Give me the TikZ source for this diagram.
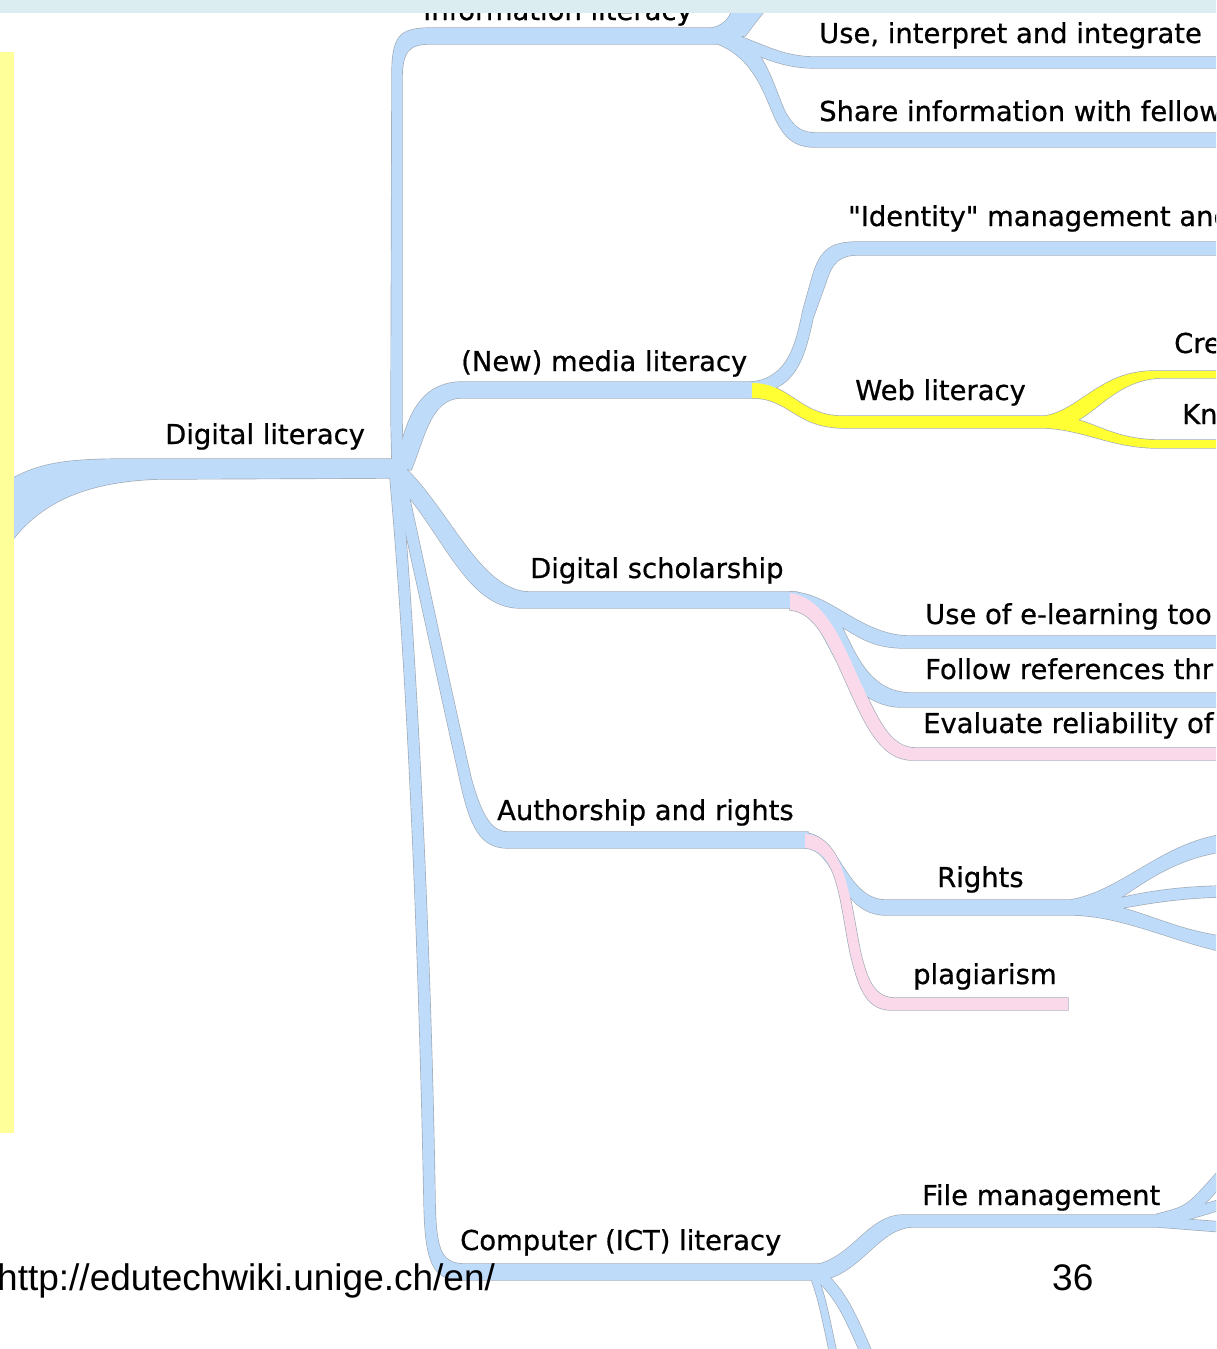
\documentclass[tikz,border=0pt]{standalone}
\usepackage{fontspec}
\newfontfamily\mapfontfam[Ligatures=TeXOff,FakeBold=0.7]{DejaVu Sans}
\newfontfamily\footfontfam{Liberation Sans}
\definecolor{brblue}{RGB}{190,220,250}
\definecolor{bryel}{RGB}{255,255,51}
\definecolor{brpink}{RGB}{250,218,234}
\definecolor{bandc}{RGB}{219,237,241}
\definecolor{leftbar}{RGB}{255,255,153}
\definecolor{edgec}{RGB}{160,170,182}
\newif\ifoutlinepass
\newcommand\brfill[2]{\ifoutlinepass\draw[edgeline] #2;\else\fill[#1] #2;\fi}
\newcommand\brstroke[3]{\ifoutlinepass\draw[edgec, line width=#2pt+1.3pt] #3;\else\draw[#1, line width=#2pt] #3;\fi}
\tikzset{
  edgeline/.style={draw=edgec, line width=1.3pt},
  lbl/.style={anchor=base west, inner sep=0pt, font=\mapfontfam\fontsize{27.4}{32}\selectfont},
  foot/.style={anchor=base west, inner sep=0pt, font=\footfontfam\fontsize{37}{40}\selectfont}
}
\newcommand\branches{%
% root
\brfill{brblue}{(8,481) .. controls (40,462) and (70,459) .. (130,459) -- (398,459) -- (398,478) -- (160,479) .. controls (90,481) and (40,500) .. (8,546) -- cycle}
\brfill{brblue}{(399,469) ellipse [x radius=8pt, y radius=10pt]}
% A information literacy
\brfill{brblue}{(392,466) -- (391,420) -- (392,75) .. controls (392,35) and (400,28) .. (432,28) -- (716,28) -- (716,44) -- (430,44) .. controls (408,44) and (402,52) .. (402,80) -- (402,420) -- (403,466) -- cycle}
\brfill{brblue}{(712,28) .. controls (722,26) and (728,20) .. (731,13) -- (733,-2) -- (776,-2) .. controls (760,15) and (750,30) .. (745,36) -- (712,40) -- cycle}
\brfill{brblue}{(712,30) .. controls (750,34) and (772,57) .. (815,57) -- (1220,57) -- (1220,68) -- (815,68) .. controls (768,68) and (745,44) .. (712,42) -- cycle}
\brfill{brblue}{(740,36) .. controls (765,50) and (775,90) .. (785,112) .. controls (795,129) and (802,133) .. (818,133) -- (1220,133) -- (1220,147) -- (815,147) .. controls (795,147) and (785,138) .. (776,120) .. controls (765,97) and (755,55) .. (712,42) -- cycle}
% B media literacy
\brfill{brblue}{(394,466) .. controls (405,440) and (408,384) .. (460,382) -- (757,382) -- (757,398) -- (460,398) .. controls (430,399) and (424,440) .. (411,470) -- cycle}
\brfill{brblue}{(752,382) .. controls (788,378) and (796,345) .. (803,310) -- (812,278) .. controls (820,250) and (830,242) .. (858,242) -- (1220,242) -- (1220,255) -- (858,255) .. controls (840,255) and (832,262) .. (826,282) -- (813,318) .. controls (806,350) and (798,390) .. (757,392) -- cycle}
% C scholarship
\brfill{brblue}{(403,466) .. controls (450,510) and (480,592) .. (530,592) -- (797,592) -- (797,608) -- (520,608) .. controls (465,608) and (440,525) .. (395,482) -- cycle}
\brfill{brblue}{(790,592) .. controls (830,592) and (860,636) .. (910,636) -- (1220,636) -- (1220,648) -- (905,648) .. controls (872,648) and (858,636) .. (842,627) .. controls (858,660) and (872,693) .. (912,693) -- (1220,693) -- (1220,707) -- (900,707) .. controls (862,706) and (842,672) .. (828,645) .. controls (816,622) and (808,607) .. (790,606) -- cycle}
% D authorship
\brfill{brblue}{(393,476) .. controls (412,560) and (440,690) .. (460,780) .. controls (470,826) and (480,848) .. (508,848) -- (808,848) -- (808,832) -- (508,832) .. controls (492,832) and (482,818) .. (471,778) .. controls (451,690) and (423,560) .. (404,472) -- cycle}
\brfill{brblue}{(805,833) .. controls (840,835) and (845,900) .. (886,900) -- (1070,900) .. controls (1120,892) and (1160,845) .. (1220,835) -- (1220,852) .. controls (1172,860) and (1142,884) .. (1120,898) .. controls (1150,891) and (1180,887) .. (1220,886) -- (1220,897) .. controls (1180,898) and (1150,903) .. (1122,908) .. controls (1152,916) and (1180,930) .. (1220,936) -- (1220,951) .. controls (1170,940) and (1120,915) .. (1070,915) -- (886,915) .. controls (838,915) and (836,848) .. (805,848) -- cycle}
% E computer literacy
\brfill{brblue}{(390,478) .. controls (410,700) and (420,1000) .. (424,1200) .. controls (425,1262) and (432,1280) .. (462,1280) -- (822,1280) -- (822,1264) -- (466,1264) .. controls (441,1264) and (436,1252) .. (435,1200) .. controls (432,1000) and (420,700) .. (401,476) -- cycle}
\brfill{brblue}{(815,1265) .. controls (852,1258) and (868,1216) .. (902,1215) -- (1165,1215) -- (1165,1227) -- (912,1227) .. controls (880,1228) and (862,1270) .. (826,1279) -- cycle}
\brstroke{brblue}{12}{(1158,1220) .. controls (1190,1212) .. (1222,1176)}
\brstroke{brblue}{10}{(1158,1221) .. controls (1190,1214) .. (1222,1204)}
\brstroke{brblue}{10}{(1158,1222) .. controls (1190,1224) .. (1222,1227)}
\brstroke{brblue}{7}{(814,1276) .. controls (822,1300) .. (833,1352)}
\brstroke{brblue}{11}{(815,1272) .. controls (840,1290) and (852,1320) .. (866,1352)}
% coloured sub-branches
\brfill{bryel}{(752,383) .. controls (790,383) and (800,416) .. (842,416) -- (1045,416) .. controls (1080,410) and (1100,372) .. (1152,371) -- (1220,371) -- (1220,378) -- (1160,378) .. controls (1120,380) and (1100,408) .. (1078,420) .. controls (1100,426) and (1120,440) .. (1160,440) -- (1220,440) -- (1220,448) -- (1155,448) .. controls (1110,447) and (1085,430) .. (1045,428) -- (845,428) .. controls (795,428) and (790,398) .. (752,398) -- cycle}
\brfill{brpink}{(790,593) .. controls (828,598) and (845,650) .. (865,692) .. controls (880,724) and (892,748) .. (916,748) -- (1220,748) -- (1220,760) -- (912,760) .. controls (880,760) and (864,722) .. (846,682) .. controls (828,642) and (815,612) .. (790,610) -- cycle}
\brfill{brpink}{(805,834) .. controls (845,836) and (850,900) .. (860,950) .. controls (868,985) and (876,998) .. (896,998) -- (1068,998) -- (1068,1010) -- (890,1010) .. controls (865,1009) and (858,985) .. (850,952) .. controls (840,902) and (838,850) .. (805,848) -- cycle}
}
\begin{document}
\begin{tikzpicture}[x=1pt,y=-1pt]
\useasboundingbox (0,0) rectangle (1216,1349);
\clip (0,0) rectangle (1216,1349);
\fill[white] (0,0) rectangle (1216,1349);
\outlinepasstrue \branches
\outlinepassfalse \branches
\fill[leftbar] (0,52) rectangle (14,1133);
% labels
\node[lbl] (dl) at (165,444) {Digital literacy};
\node[lbl] (il) at (423,20) {Information literacy};
\node[lbl] (a1) at (819,43) {Use, interpret and integrate};
\node[lbl] (a2) at (819,121) {Share information with fellow};
\node[lbl] (b) at (461,371) {(New) media literacy};
\node[lbl] (b1) at (848,226) {"Identity" management and};
\node[lbl] (w) at (855,400) {Web literacy};
\node[lbl] (cre) at (1174,353) {Cre};
\node[lbl] (kn) at (1182,424) {Kn};
\node[lbl] (c) at (530,578) {Digital scholarship};
\node[lbl] (c1) at (925,624) {Use of e-learning too};
\node[lbl] (c2) at (925,679) {Follow references thr};
\node[lbl] (c3) at (923,733) {Evaluate reliability of};
\node[lbl] (d) at (497,820) {Authorship and rights};
\node[lbl] (d1) at (937,887) {Rights};
\node[lbl] (d2) at (913,984) {plagiarism};
\node[lbl] (e) at (460,1250) {Computer (ICT) literacy};
\node[lbl] (e1) at (922,1205) {File management};
% top band
\fill[bandc] (0,0) rectangle (1216,13);
% footer
\node[foot] (url) at (-3,1290) {http://edutechwiki.unige.ch/en/};
\node[foot] (num) at (1052,1290) {36};
\end{tikzpicture}
\end{document}
